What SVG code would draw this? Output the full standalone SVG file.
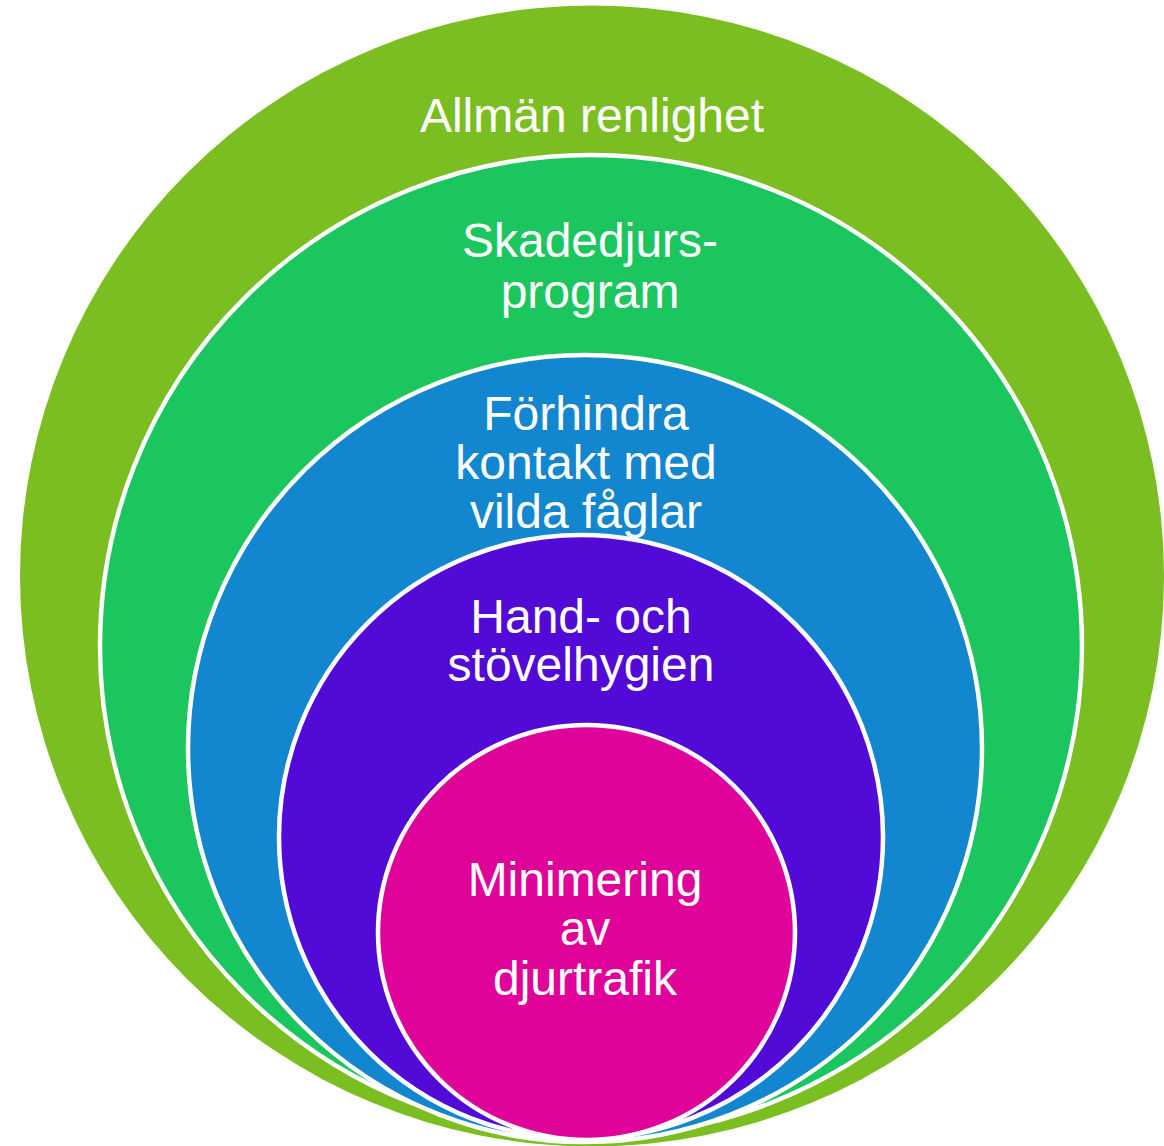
<svg xmlns="http://www.w3.org/2000/svg" width="1164" height="1146" viewBox="0 0 1164 1146">
<style>
.ring{stroke:#FFFFFF;stroke-width:4.5}
.lbl{font-family:"Liberation Sans",Arial,sans-serif;font-size:48px;fill:#FFFFFF;text-anchor:middle}
</style>
<rect width="1164" height="1146" fill="#FFFFFF"/>
<g id="allman">
<ellipse cx="592" cy="576" rx="572" ry="570.5" fill="#7BBE21"/>
<text class="lbl" x="592" y="132">Allmän renlighet</text>
</g>
<g id="skadedjur">
<ellipse class="ring" cx="591" cy="646" rx="491" ry="491" fill="#1BC65E"/>
<text class="lbl" x="590" y="257">Skadedjurs-</text>
<text class="lbl" x="590" y="308">program</text>
</g>
<g id="forhindra">
<ellipse class="ring" cx="585" cy="748.5" rx="397" ry="393.5" fill="#1287CF"/>
<text class="lbl" x="586" y="430">Förhindra</text>
<text class="lbl" x="586" y="479">kontakt med</text>
<text class="lbl" x="586" y="528">vilda fåglar</text>
</g>
<g id="hand">
<ellipse class="ring" cx="581" cy="837" rx="302" ry="302" fill="#520AD6"/>
<text class="lbl" x="581" y="633">Hand- och</text>
<text class="lbl" x="581" y="681">stövelhygien</text>
</g>
<g id="minimering">
<ellipse class="ring" cx="586.5" cy="932.5" rx="208.5" ry="207.5" fill="#E0039A"/>
<text class="lbl" x="585" y="896">Minimering</text>
<text class="lbl" x="585" y="945">av</text>
<text class="lbl" x="585" y="995">djurtrafik</text>
</g>
<g id="connectors"/>
</svg>
